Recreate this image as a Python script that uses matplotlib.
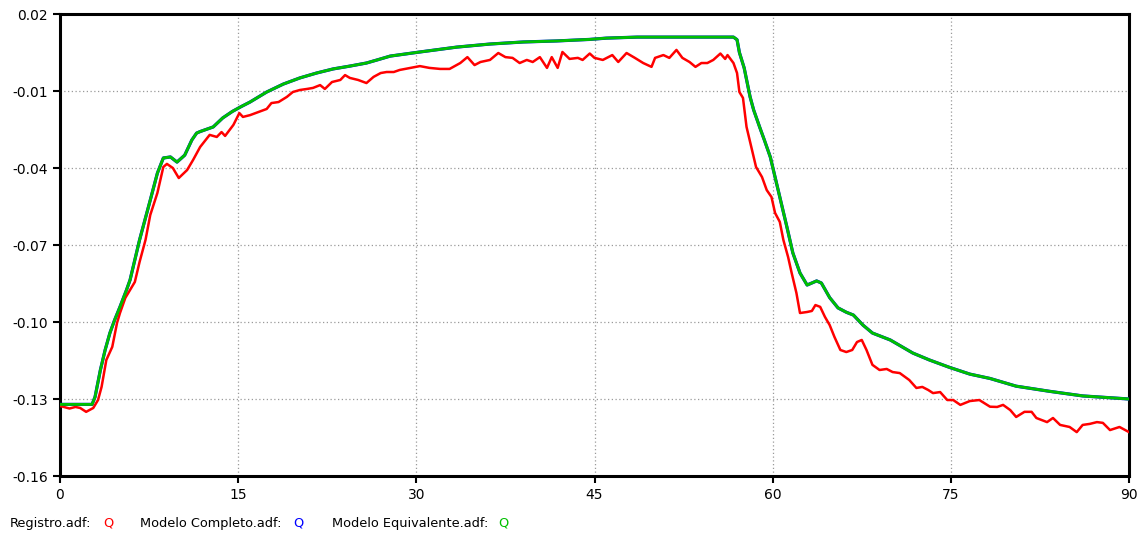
import matplotlib
matplotlib.use("Agg")
import matplotlib.pyplot as plt

# Registro.adf : Q (measured, noisy)
t_registro = [
    0.0, 0.8, 1.3, 1.7, 2.2, 2.8, 3.2, 3.5, 3.9, 4.4, 4.8, 5.05, 5.5, 5.9, 6.3,
    6.7, 7.2, 7.6, 8.2, 8.7, 9.0, 9.5, 10.0, 10.7, 11.2, 11.8, 12.6, 13.2, 13.6,
    13.9, 14.6, 15.1, 15.4, 16.0, 16.7, 17.4, 17.8, 18.4, 19.1, 19.6, 20.2, 20.8,
    21.3, 21.9, 22.3, 22.9, 23.6, 24.0, 24.4, 25.1, 25.8, 26.4, 27.0, 27.5, 28.1,
    28.6, 29.5, 30.3, 31.1, 32.0, 32.8, 33.7, 34.3, 34.9, 35.4, 36.2, 36.9, 37.5,
    38.1, 38.7, 39.3, 39.8, 40.4, 41.0, 41.4, 41.9, 42.3, 42.9, 43.6, 44.0, 44.6,
    45.0, 45.7, 46.5, 47.0, 47.7, 48.4, 49.1, 49.8, 50.1, 50.8, 51.3, 51.9, 52.4,
    53.0, 53.5, 54.0, 54.5, 55.0, 55.6, 56.0, 56.2, 56.7, 57.0, 57.2, 57.5, 57.8,
    58.2, 58.6, 59.1, 59.5, 59.9, 60.2, 60.6, 60.9, 61.3, 61.6, 62.0, 62.3, 62.9,
    63.3, 63.6, 64.0, 64.4, 64.8, 65.2, 65.7, 66.2, 66.7, 67.1, 67.5, 67.9, 68.4,
    69.0, 69.6, 70.1, 70.7, 71.5, 72.1, 72.6, 73.1, 73.5, 74.1, 74.7, 75.2, 75.8,
    76.6, 77.4, 78.3, 78.9, 79.4, 80.0, 80.5, 81.2, 81.8, 82.2, 83.1, 83.6, 84.2,
    85.0, 85.6, 86.1, 86.7, 87.3, 87.8, 88.4, 89.2, 90.0,
]
q_registro = [
    -0.1327, -0.1337, -0.1331, -0.1335, -0.1350, -0.1335, -0.1304, -0.1253,
    -0.1148, -0.1097, -0.1004, -0.0965, -0.0906, -0.0875, -0.0844, -0.0766,
    -0.0680, -0.0583, -0.0497, -0.0396, -0.0384, -0.0400, -0.0439, -0.0408,
    -0.0369, -0.0318, -0.0271, -0.0279, -0.0260, -0.0275, -0.0232, -0.0186,
    -0.0201, -0.0194, -0.0182, -0.0170, -0.0147, -0.0143, -0.0123, -0.0104,
    -0.0096, -0.0092, -0.0088, -0.0077, -0.0092, -0.0065, -0.0057, -0.0038,
    -0.0049, -0.0057, -0.0069, -0.0045, -0.0030, -0.0026, -0.0026, -0.0018,
    -0.0010, -0.0003, -0.0010, -0.0014, -0.0014, 0.0009, 0.0032, 0.0001,
    0.0013, 0.0021, 0.0048, 0.0032, 0.0029, 0.0009, 0.0021, 0.0013, 0.0032,
    -0.0010, 0.0032, -0.0010, 0.0052, 0.0025, 0.0029, 0.0021, 0.0046, 0.0029,
    0.0021, 0.0040, 0.0013, 0.0048, 0.0029, 0.0009, -0.0006, 0.0029, 0.0040,
    0.0029, 0.0060, 0.0029, 0.0013, -0.0006, 0.0009, 0.0009, 0.0021, 0.0046,
    0.0025, 0.0040, 0.0009, -0.0030, -0.0104, -0.0127, -0.0240, -0.0318,
    -0.0396, -0.0435, -0.0486, -0.0513, -0.0575, -0.0610, -0.0680, -0.0747,
    -0.0809, -0.0887, -0.0965, -0.0961, -0.0957, -0.0934, -0.0941, -0.0980,
    -0.1012, -0.1058, -0.1109, -0.1117, -0.1109, -0.1078, -0.1070, -0.1109,
    -0.1167, -0.1187, -0.1183, -0.1195, -0.1199, -0.1226, -0.1257, -0.1253,
    -0.1265, -0.1277, -0.1273, -0.1304, -0.1304, -0.1323, -0.1308, -0.1304,
    -0.1330, -0.1331, -0.1323, -0.1343, -0.1370, -0.1350, -0.1350, -0.1374,
    -0.1390, -0.1374, -0.1401, -0.1409, -0.1429, -0.1401, -0.1397, -0.1390,
    -0.1393, -0.1421, -0.1409, -0.1429,
]

# Modelo Equivalente.adf : Q (simulated)
t_modelo = [
    0.0, 2.7, 2.95, 3.4, 3.8, 4.2, 4.6, 5.05, 5.6, 5.9, 6.7, 7.6, 8.2, 8.7, 9.3,
    9.85, 10.5, 11.1, 11.5, 11.8, 12.9, 13.7, 14.5, 15.2, 16.0, 17.4, 18.8, 20.2,
    21.6, 23.0, 24.4, 25.8, 26.7, 27.8, 30.3, 33.4, 36.2, 39.0, 41.8, 44.6, 46.0,
    48.6, 52.2, 56.7, 57.0, 57.2, 57.6, 58.1, 58.4, 58.9, 59.3, 59.8, 60.2, 60.6,
    61.2, 61.7, 62.3, 62.9, 63.7, 64.1, 64.8, 65.5, 66.2, 66.8, 67.6, 68.4, 69.9,
    71.8, 73.2, 74.9, 76.6, 78.3, 80.5, 83.3, 86.1, 90.0,
]
q_equivalente = [
    -0.1321, -0.1321, -0.1292, -0.1187, -0.1109, -0.1043, -0.0992, -0.0941,
    -0.0875, -0.0836, -0.0680, -0.0525, -0.0420, -0.0361, -0.0357, -0.0377,
    -0.0350, -0.0291, -0.0264, -0.0258, -0.0240, -0.0205, -0.0180, -0.0162,
    -0.0143, -0.0104, -0.0073, -0.0049, -0.0030, -0.0014, -0.0003, 0.0009,
    0.0021, 0.0036, 0.0052, 0.0071, 0.0083, 0.0091, 0.0095, 0.0101, 0.0106,
    0.0110, 0.0110, 0.0110, 0.0100, 0.0050, -0.0010, -0.0123, -0.0174, -0.0240,
    -0.0291, -0.0357, -0.0435, -0.0513, -0.0630, -0.0731, -0.0809, -0.0856,
    -0.0840, -0.0848, -0.0905, -0.0945, -0.0962, -0.0973, -0.1012, -0.1043,
    -0.1070, -0.1121, -0.1148, -0.1177, -0.1203, -0.1220, -0.1250, -0.1270,
    -0.1288, -0.1300,
]
# Modelo Completo.adf : Q -- same response as the equivalent model
q_completo = list(q_equivalente)

x_ticks = [0, 15, 30, 45, 60, 75, 90]
y_ticks = [-0.16, -0.13, -0.10, -0.07, -0.04, -0.01, 0.02]
y_labels = ["-0.16", "-0.13", "-0.10", "-0.07", "-0.04", "-0.01", "0.02"]

plt.rcParams['font.family'] = ['DejaVu Sans']

fig = plt.figure(figsize=(11.45, 5.38), dpi=100)
ax = fig.add_axes([60 / 1145, 1 - 476 / 538, 1069 / 1145, 462 / 538])

ax.plot(t_modelo, q_completo, color='#0000ff', lw=2.3, zorder=3)
ax.plot(t_registro, q_registro, color='#ff0000', lw=1.8, zorder=4)
ax.plot(t_modelo, q_equivalente, color='#00c000', lw=2.1, zorder=5)

ax.set_xlim(0, 90)
ax.set_ylim(-0.16, 0.02)
ax.set_xticks(x_ticks)
ax.set_xticklabels([str(v) for v in x_ticks])
ax.set_yticks(y_ticks)
ax.set_yticklabels(y_labels)
ax.tick_params(direction='out', length=5, width=1.5, labelsize=10, colors='black')

ax.grid(True, color='#9a9a9a', linestyle=(0, (1, 2)), linewidth=0.9)
for s in ax.spines.values():
    s.set_linewidth(2.2)
    s.set_color('black')

# legend line under the plot
ly = 1 - 523 / 538
items = [
    (10, "Registro.adf:", 'black'), (103, "Q", '#ff0000'),
    (140, "Modelo Completo.adf:", 'black'), (293, "Q", '#0000ff'),
    (332, "Modelo Equivalente.adf:", 'black'), (498, "Q", '#00c000'),
]
for px, txt, col in items:
    fig.text(px / 1145, ly, txt, color=col, fontsize=9.3, va='center', ha='left')

fig.savefig("out.png", dpi=100)
